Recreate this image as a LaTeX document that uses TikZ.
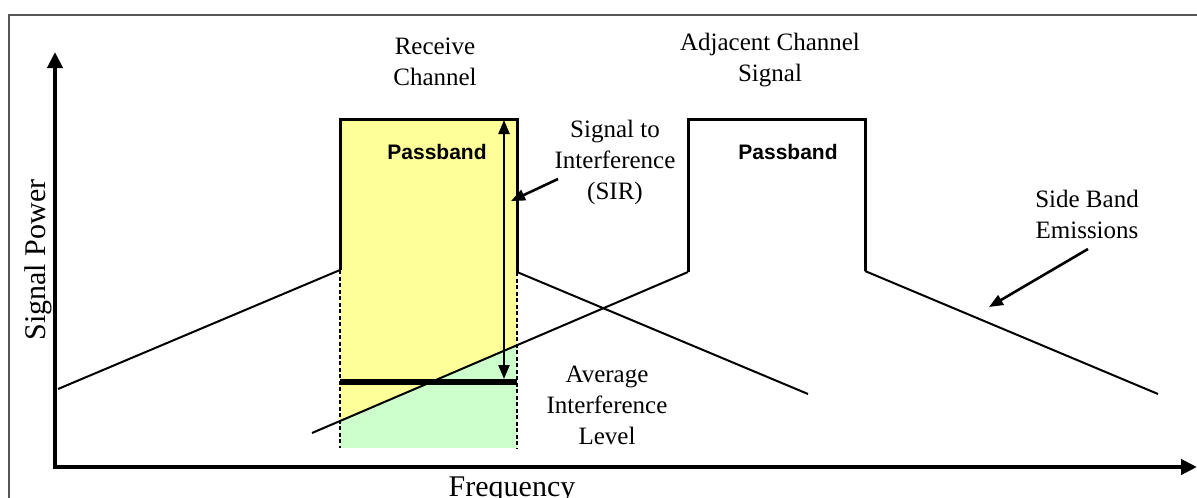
\documentclass[tikz,border=0pt]{standalone}
\usepackage{fontspec}
\setmainfont{Liberation Serif}
\newfontfamily\pbfont{Liberation Sans}
\usetikzlibrary{arrows.meta}
\definecolor{passyellow}{HTML}{FFFF99}
\definecolor{intgreen}{HTML}{CCFFCC}
\definecolor{framegray}{HTML}{555555}
\tikzset{
  lbl/.style={align=center, inner sep=0pt, font=\fontsize{25}{31}\selectfont},
  axlbl/.style={inner sep=0pt, font=\fontsize{30}{34}\selectfont},
  pblbl/.style={inner sep=0pt, font=\pbfont\bfseries\fontsize{21}{24}\selectfont},
  axisline/.style={line width=4.5pt, -{Triangle[length=16pt,width=15pt]}},
  skirt/.style={line width=2pt},
  boxline/.style={line width=3pt, line join=miter},
  dashside/.style={line width=2.4pt, dash pattern=on 4pt off 2.5pt},
  ptr/.style={line width=2.6pt, -{Triangle[length=14pt,width=11pt]}},
  dblptr/.style={line width=2.4pt, {Triangle[length=14pt,width=11pt]}-{Triangle[length=14pt,width=11pt]}},
}
\begin{document}
\begin{tikzpicture}[x=1pt,y=-1pt]
\useasboundingbox (0,0) rectangle (1197,498);
% frame (cropped)
\draw[framegray, line width=2pt] (9,498) -- (9,15) -- (1197,15);
% fills
\fill[passyellow] (340,119) rectangle (517,448);
\fill[intgreen] (340,421) -- (517,345) -- (517,448) -- (340,448) -- cycle;
% coordinates
\coordinate (rbl) at (340,270);
\coordinate (rtl) at (340,119);
\coordinate (rtr) at (517,119);
\coordinate (rbr) at (517,272);
\coordinate (rdl) at (340,448);
\coordinate (rdr) at (517,448);
\coordinate (lsk) at (58,389);
\coordinate (rsk) at (808,394);
\coordinate (abl) at (688,272);
\coordinate (atl) at (688,119);
\coordinate (atr) at (865,119);
\coordinate (abr) at (865,271);
\coordinate (ask) at (312,433);
\coordinate (arsk) at (1158,394);
\coordinate (ilL) at (340,382);
\coordinate (ilR) at (517,382);
\coordinate (sirT) at (504,120);
\coordinate (sirB) at (504,379);
\coordinate (ytip) at (55,52);
\coordinate (xtip) at (1197,467);
% axes
\draw[axisline] (55,469) -- (ytip);
\draw[axisline] (53,467) -- (xtip);
% receive channel
\draw[skirt] (lsk) -- (rbl);
\draw[boxline] (rbl) -- (rtl) -- (rtr) -- (rbr);
\draw[skirt] (rbr) -- (rsk);
\draw[dashside] (rbl) -- (rdl);
\draw[dashside] (rbr) -- (rdr);
% adjacent channel
\draw[skirt] (ask) -- (abl);
\draw[boxline] (abl) -- (atl) -- (atr) -- (abr);
\draw[skirt] (abr) -- (arsk);
% interference level
\draw[line width=6pt] (ilL) -- (ilR);
\draw[dblptr] (sirT) -- (sirB);
% labels
\node[lbl] (recv) at (435,62) {Receive\\Channel};
\node[lbl] (adj) at (770,60) {Adjacent Channel\\Signal};
\node[lbl] (sir) at (615,162) {Signal to\\Interference\\(SIR)};
\node[pblbl] (pb1) at (437,152) {Passband};
\node[pblbl] (pb2) at (788,152) {Passband};
\node[lbl] (sbe) at (1087,214) {Side Band\\Emissions};
\node[lbl] (avg) at (607,405) {Average\\Interference\\Level};
\node[axlbl, anchor=base] (freq) at (512,496) {Frequency};
\node[axlbl, rotate=90] (spow) at (38,260) {Signal Power};
% pointers
\coordinate (sirS) at (558,179);
\coordinate (sirE) at (511,201);
\draw[ptr] (sirS) -- (sirE);
\coordinate (sbS) at (1088,249);
\coordinate (sbE) at (989,307);
\draw[ptr] (sbS) -- (sbE);
\end{tikzpicture}
\end{document}
